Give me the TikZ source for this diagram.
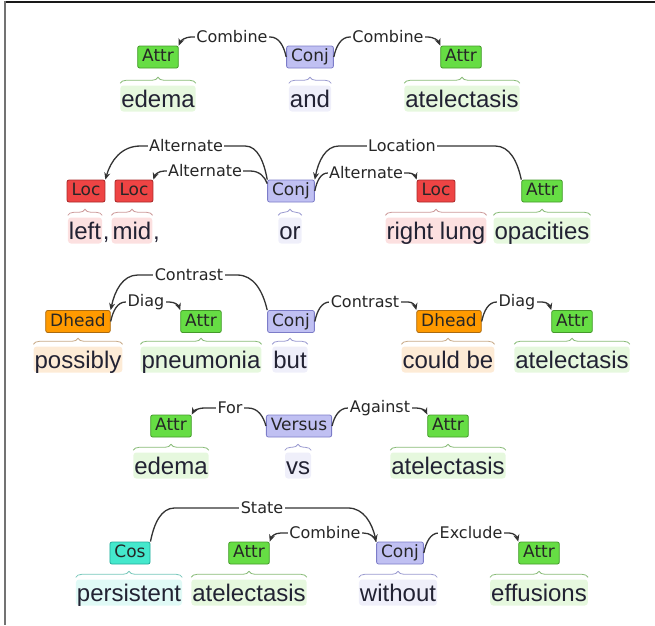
\documentclass[tikz,border=0pt]{standalone}
\usepackage{fontspec}
\setmainfont{Liberation Sans}
\newfontfamily\lblfont{DejaVu Sans}
\usetikzlibrary{arrows.meta,calc,decorations.pathreplacing}
\definecolor{attrF}{HTML}{66DD44}\definecolor{attrD}{HTML}{44992A}\definecolor{attrW}{HTML}{E6F8DE}\definecolor{attrB}{HTML}{88BB77}
\definecolor{conjF}{HTML}{C0C0F2}\definecolor{conjD}{HTML}{7C7CC8}\definecolor{conjW}{HTML}{EFEFFA}\definecolor{conjB}{HTML}{9A9AD0}
\definecolor{locF}{HTML}{EE4444}\definecolor{locD}{HTML}{AA2A2A}\definecolor{locW}{HTML}{FCE0E0}\definecolor{locB}{HTML}{CC9999}
\definecolor{dhF}{HTML}{FF9A00}\definecolor{dhD}{HTML}{AA6A10}\definecolor{dhW}{HTML}{FDEBD6}\definecolor{dhB}{HTML}{C8AA88}
\definecolor{cosF}{HTML}{44E8CC}\definecolor{cosD}{HTML}{22AA99}\definecolor{cosW}{HTML}{E0FAF6}\definecolor{cosB}{HTML}{77C8BB}
\definecolor{arcc}{HTML}{333333}\definecolor{wordc}{HTML}{222233}
\tikzset{
 tagbox/.style={draw, rounded corners=2pt, line width=0.8pt, inner xsep=4.5pt, inner ysep=0pt,
   minimum height=22pt, text height=12.5pt, text depth=3.5pt,
   font=\lblfont\fontsize{17}{17}\selectfont, text=black!85},
 attr/.style={tagbox, fill=attrF, draw=attrD},
 conj/.style={tagbox, fill=conjF, draw=conjD},
 loc/.style={tagbox, fill=locF, draw=locD},
 dhead/.style={tagbox, fill=dhF, draw=dhD},
 cos/.style={tagbox, fill=cosF, draw=cosD},
 word/.style={anchor=base, rounded corners=3pt, inner xsep=1pt, inner ysep=1.5pt,
   text height=20pt, text depth=3pt, font=\fontsize{24}{24}\selectfont, text=wordc},
 wattr/.style={word, fill=attrW},
 wconj/.style={word, fill=conjW},
 wloc/.style={word, fill=locW},
 wdh/.style={word, fill=dhW},
 wcos/.style={word, fill=cosW},
 plainword/.style={anchor=base west, inner sep=0pt, font=\fontsize{24}{24}\selectfont, text=wordc},
 arcline/.style={draw=arcc, line width=1.3pt, -{Stealth[length=7pt,width=6pt]}},
 arclabel/.style={fill=white, inner xsep=1.5pt, inner ysep=1pt,
   font=\lblfont\fontsize{16}{16}\selectfont, text=black!85},
 brc/.style={decorate, decoration={brace, amplitude=6pt, raise=2pt}, line width=0.8pt},
}
% #1 source, #2 target, #3 level (px from top), #4 label, #5 source dx, #6 target dx, #7 label x
\newcommand\brarc[7]{%
 \draw[arcline] let \p1=(#1), \p2=(#2), \n1={ifthenelse(\x2>\x1,1,-1)} in
  (\p1) .. controls ({\x1+(\n1)*0.15*#5pt},{0.45*\y1-0.55*#3pt})
           and ({\x1+(\n1)*0.45*#5pt},-#3pt) .. ({\x1+(\n1)*#5pt},-#3pt)
  -- ({\x2-(\n1)*#6pt},-#3pt)
  .. controls ({\x2-(\n1)*0.45*#6pt},-#3pt)
           and ({\x2-(\n1)*0.15*#6pt},{0.45*\y2-0.55*#3pt}) .. (\p2)
  node[arclabel] at (#7pt,-#3pt) {#4};}
\newcommand\wbrace[2]{\draw[brc, draw=#2] (#1.north west) -- (#1.north east);}
\begin{document}
\begin{tikzpicture}[x=1pt,y=-1pt]
\useasboundingbox (0,0) rectangle (655,625);
\draw[black!90, line width=2pt] (655,2) -- (5,2);
\draw[black!55, line width=2.5pt] (5,1) -- (5,625);

% ---------- row 1
\node[wattr] (w1) at (158,107) {edema};
\node[wconj] (w2) at (310,107) {and};
\node[wattr] (w3) at (462,107) {atelectasis};
\wbrace{w1}{attrB}\wbrace{w2}{conjB}\wbrace{w3}{attrB}
\node[attr] (a1) at (158,57) {Attr};
\node[conj] (c1) at (310,57) {Conj};
\node[attr] (a2) at (461,57) {Attr};
\brarc{c1.west}{a1.north east}{37}{Combine}{16}{13}{232}
\brarc{c1.east}{a2.north west}{37}{Combine}{16}{13}{388}

% ---------- row 2
\node[wloc] (wl) at (85,239) {left};
\node[plainword] (k1) at ([xshift=0.5pt]wl.base east) {,};
\node[wloc] (wm) at (132,239) {mid};
\node[plainword] (k2) at ([xshift=0.5pt]wm.base east) {,};
\node[wconj] (wor) at (290,239) {or};
\node[wloc] (wrl) at (436,239) {right lung};
\node[wattr] (wop) at (542,239) {opacities};
\wbrace{wl}{locB}\wbrace{wm}{locB}\wbrace{wor}{conjB}\wbrace{wrl}{locB}\wbrace{wop}{attrB}
\node[loc] (l1) at (86,191) {Loc};
\node[loc] (l2) at (134,191) {Loc};
\node[conj] (c2) at (291,191) {Conj};
\node[loc] (l3) at (436,191) {Loc};
\node[attr] (a3) at (542,191) {Attr};
\brarc{c2.north west}{l1.north east}{146}{Alternate}{22}{35}{186}
\brarc{[yshift=-4pt]c2.north west}{l2.north east}{171}{Alternate}{17}{11}{205}
\brarc{a3.north west}{c2.north east}{146}{Location}{26}{24}{402}
\brarc{c2.east}{l3.north west}{173}{Alternate}{13}{8}{366}

% ---------- row 3
\node[wdh] (wp) at (78,368) {possibly};
\node[wattr] (wpn) at (201,368) {pneumonia};
\node[wconj] (wbut) at (290,368) {but};
\node[wdh] (wcb) at (448,368) {could be};
\node[wattr] (wat2) at (572,368) {atelectasis};
\wbrace{wp}{dhB}\wbrace{wpn}{attrB}\wbrace{wbut}{conjB}\wbrace{wcb}{dhB}\wbrace{wat2}{attrB}
\node[dhead] (d1) at (78,321.5) {Dhead};
\node[attr] (a4) at (201,321.5) {Attr};
\node[conj] (c3) at (291,321.5) {Conj};
\node[dhead] (d2) at (449,321.5) {Dhead};
\node[attr] (a5) at (572,321.5) {Attr};
\brarc{c3.north west}{d1.north east}{275}{Contrast}{30}{27}{189}
\brarc{d1.east}{a4.north west}{302}{Diag}{15}{11}{146}
\brarc{c3.east}{d2.north west}{302}{Contrast}{15}{8}{365}
\brarc{d2.east}{a5.north west}{302}{Diag}{15}{9}{517}

% ---------- row 4
\node[wattr] (we2) at (171,474) {edema};
\node[wconj] (wvs) at (298,474) {vs};
\node[wattr] (wat3) at (448,474) {atelectasis};
\wbrace{we2}{attrB}\wbrace{wvs}{conjB}\wbrace{wat3}{attrB}
\node[attr] (a6) at (171,426) {Attr};
\node[conj] (v) at (299,426) {Versus};
\node[attr] (a7) at (448,426) {Attr};
\brarc{v.west}{a6.north east}{408}{For}{18}{13}{230}
\brarc{v.east}{a7.north west}{408}{Against}{16}{11}{380}

% ---------- row 5
\node[wcos] (wps) at (129,601) {persistent};
\node[wattr] (wat4) at (249,601) {atelectasis};
\node[wconj] (wwo) at (398,601) {without};
\node[wattr] (wef) at (539,601) {effusions};
\wbrace{wps}{cosB}\wbrace{wat4}{attrB}\wbrace{wwo}{conjB}\wbrace{wef}{attrB}
\node[cos] (cs) at (130,553) {Cos};
\node[attr] (a9) at (249,553) {Attr};
\node[conj] (c5) at (400,553) {Conj};
\node[attr] (a10) at (539,553) {Attr};
\brarc{cs.north east}{c5.north west}{508}{State}{24}{28}{262}
\brarc{c5.north west}{a9.north east}{533}{Combine}{13}{11}{325}
\brarc{c5.east}{a10.north west}{533}{Exclude}{15}{9}{471}
\end{tikzpicture}
\end{document}
